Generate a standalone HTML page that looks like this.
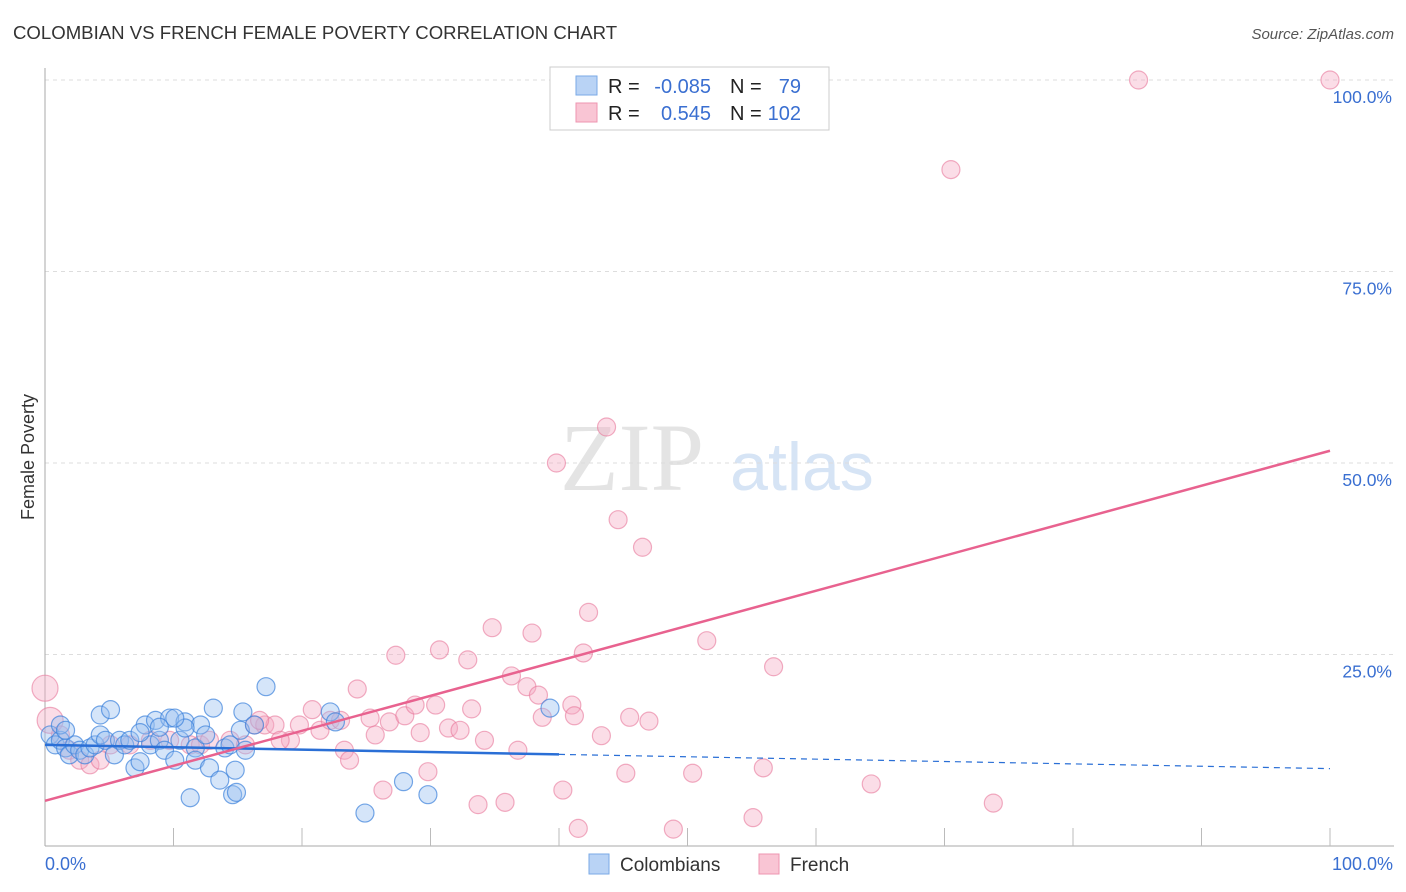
<!DOCTYPE html>
<html><head><meta charset="utf-8"><style>
body{margin:0;background:#fff;font-family:"Liberation Sans",sans-serif;}
svg{display:block}
</style></head><body>
<svg id="chart" width="1406" height="892" xmlns="http://www.w3.org/2000/svg">
<text x="13" y="39" font-size="18.6" fill="#333">COLOMBIAN VS FRENCH FEMALE POVERTY CORRELATION CHART</text>
<text x="1394" y="39" font-size="15" fill="#555" font-style="italic" text-anchor="end">Source: ZipAtlas.com</text>
<text x="34" y="457" font-size="18" fill="#333" text-anchor="middle" transform="rotate(-90 34 457)">Female Poverty</text>
<text x="632" y="490" font-size="96" fill="#e4e4e4" font-family="Liberation Serif,serif" text-anchor="middle">ZIP</text>
<text x="802" y="490" font-size="68" fill="#d6e4f5" text-anchor="middle">atlas</text>
<g id="grid"></g><g id="axes"></g><g id="pts"></g><g id="trends"></g>
<g>
<rect x="550" y="67" width="279" height="63" fill="#fff" stroke="#ccc"/>
<rect x="576" y="76" width="21" height="19" fill="#b9d3f5" stroke="#7aaae6"/>
<rect x="576" y="103" width="21" height="19" fill="#f9c5d4" stroke="#ee95b0"/>
<text x="608" y="93" font-size="20" fill="#222">R =</text><text x="711" y="93" font-size="20" fill="#3a6fd1" text-anchor="end">-0.085</text>
<text x="730" y="93" font-size="20" fill="#222">N =</text><text x="801" y="93" font-size="20" fill="#3a6fd1" text-anchor="end">79</text>
<text x="608" y="120" font-size="20" fill="#222">R =</text><text x="711" y="120" font-size="20" fill="#3a6fd1" text-anchor="end">0.545</text>
<text x="730" y="120" font-size="20" fill="#222">N =</text><text x="801" y="120" font-size="20" fill="#3a6fd1" text-anchor="end">102</text>
</g>
<g>
<rect x="589" y="854" width="20" height="20" fill="#b9d3f5" stroke="#7aaae6"/>
<text x="620" y="871" font-size="19" fill="#333">Colombians</text>
<rect x="759" y="854" width="20" height="20" fill="#f9c5d4" stroke="#ee95b0"/>
<text x="790" y="871" font-size="19" fill="#333">French</text>
</g>
</svg>
<script>
const yTicks=[25,50,75,100];
const yTickLabels=["25.0%","50.0%","75.0%","100.0%"];
const xTickLabels=["0.0%","100.0%"];
const blueX=[0.4,0.8,1.2,1.6,1.9,2.3,2.7,3.1,3.5,3.9,4.3,4.3,4.7,5.1,5.4,5.8,6.2,6.6,7.0,7.4,7.8,8.2,8.6,8.9,9.3,9.7,10.1,10.5,10.9,11.3,11.7,11.7,12.1,12.5,12.8,13.1,13.6,14.0,14.4,14.6,14.8,14.9,15.2,15.4,15.6,16.3,17.2,22.2,22.6,24.9,27.9,29.8,39.3,1.2,1.6,10.9,10.1,7.4,8.9];
const blueY=[14.5,13.2,13.8,12.8,11.9,13.2,12.5,11.9,12.8,13.2,17.1,14.5,13.8,17.8,11.9,13.8,13.2,13.8,10.2,11.0,15.8,13.2,16.4,13.8,12.5,16.7,11.2,13.8,16.2,6.3,12.8,11.2,15.8,14.5,10.2,18.0,8.6,12.8,13.2,6.7,9.9,7.0,15.1,17.5,12.5,15.8,20.8,17.5,16.2,4.3,8.4,6.7,18.0,15.8,15.1,15.4,16.7,14.8,15.5];
const pinkX=[0,0.4,1.2,1.9,2.7,3.5,4.3,5.1,6.6,8.2,9.7,11.3,12.1,12.8,14.4,15.6,16.3,17.1,17.9,19.1,19.8,20.8,21.4,22.2,23.0,23.3,23.7,24.3,25.3,25.7,26.3,26.8,27.3,28.0,28.8,29.2,29.8,30.4,30.7,31.4,32.3,32.9,33.2,33.7,34.2,34.8,35.8,36.3,36.8,37.5,37.9,38.4,38.7,39.8,40.3,41.0,41.2,41.5,41.9,42.3,43.3,43.7,44.6,45.2,45.5,46.5,47.0,48.9,50.4,51.5,55.1,55.9,56.7,64.3,70.5,73.8,85.1,100,16.7,18.3];
const pinkY=[20.6,16.4,14.5,12.5,11.2,10.6,11.2,13.2,13.2,13.8,13.8,13.2,13.2,13.8,13.8,13.2,15.8,15.8,15.8,13.8,15.8,17.8,15.1,16.4,16.4,12.5,11.2,20.5,16.7,14.5,7.3,16.2,24.9,17.0,18.4,14.8,9.7,18.4,25.6,15.4,15.1,24.3,17.9,5.4,13.8,28.5,5.7,22.2,12.5,20.8,27.8,19.7,16.8,50.0,7.3,18.4,17.0,2.3,25.2,30.5,14.4,54.7,42.6,9.5,16.8,39.0,16.3,2.2,9.5,26.8,3.7,10.2,23.4,8.1,88.3,5.6,100,100,16.4,13.8];
const blueTrend=[13.2,10.1];
const pinkTrend=[5.9,51.6];
const NS="http://www.w3.org/2000/svg";
const X=v=>45+v*12.85, Y=v=>846-v*7.66;
function mk(t,a,p){const e=document.createElementNS(NS,t);for(const k in a)e.setAttribute(k,a[k]);document.getElementById(p).appendChild(e);return e;}
yTicks.forEach((t,i)=>{
 let l=mk('line',{x1:45,x2:1394,y1:Y(t),y2:Y(t),stroke:'#ddd','stroke-dasharray':'4,4'},'grid');
 
 
 let tx=mk('text',{x:1392,y:Y(t)+23,'font-size':17.5,fill:'#3a6fd1','text-anchor':'end'},'grid');tx.textContent=yTickLabels[i];
 
 
});
mk('line',{x1:45,x2:45,y1:68,y2:846,stroke:'#aaa'},'axes');
mk('line',{x1:45,x2:1394,y1:846,y2:846,stroke:'#aaa'},'axes');
for(let i=1;i<=10;i++){let t=mk('line',{x1:X(i*10),x2:X(i*10),y1:828,y2:846,stroke:'#bbb'},'axes');
 
 }
let xl=mk('text',{x:45,y:870,'font-size':18,fill:'#3a6fd1'},'axes');xl.textContent=xTickLabels[0];


let xr=mk('text',{x:1393,y:870,'font-size':18,fill:'#3a6fd1','text-anchor':'end'},'axes');xr.textContent=xTickLabels[1];


pinkX.forEach((x,i)=>{let c=mk('circle',{cx:X(x),cy:Y(pinkY[i]),r:i<2?13:9,fill:'rgba(246,170,195,0.4)',stroke:'rgba(232,120,155,0.6)','stroke-width':1.2},'pts');
 
 });
blueX.forEach((x,i)=>{let c=mk('circle',{cx:X(x),cy:Y(blueY[i]),r:9,fill:'rgba(150,190,240,0.4)',stroke:'rgba(60,130,220,0.7)','stroke-width':1.2},'pts');
 
 });
const bAt=v=>blueTrend[0]+(blueTrend[1]-blueTrend[0])*v/100;
let b1=mk('line',{x1:X(0),y1:Y(bAt(0)),x2:X(40),y2:Y(bAt(40)),stroke:'#2a6fd6','stroke-width':2.5},'trends');


let b2=mk('line',{x1:X(40),y1:Y(bAt(40)),x2:X(100),y2:Y(bAt(100)),stroke:'#2a6fd6','stroke-width':1.2,'stroke-dasharray':'6,5'},'trends');


let p1=mk('line',{x1:X(0),y1:Y(pinkTrend[0]),x2:X(100),y2:Y(pinkTrend[1]),stroke:'#e8628f','stroke-width':2.5},'trends');


</script>
</body></html>
